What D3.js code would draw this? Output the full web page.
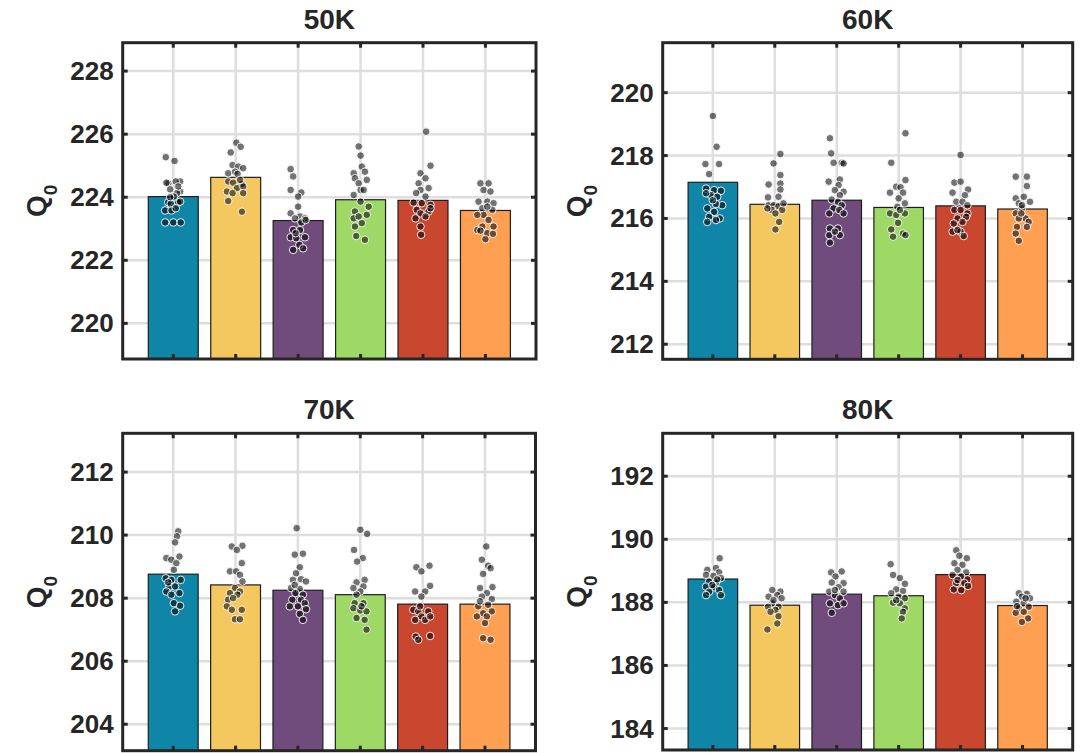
<!DOCTYPE html>
<html><head><meta charset="utf-8">
<script src="https://cdn.jsdelivr.net/npm/d3@7"></script>
<style>
body{margin:0;background:#fff}
svg{display:block}
text{font-family:"Liberation Sans",Arial,Helvetica,sans-serif;font-weight:bold;fill:#262626}
</style>
</head><body>
<svg id="chart" width="1081" height="753"></svg>
<script>
// ---------------- DATA ----------------
const panelTitles = ["50K", "60K", "70K", "80K"];
const categories = [1, 2, 3, 4, 5, 6];
const barColors = ["#0f86a8", "#f4c75f", "#6f4c7c", "#9fd965", "#c9462f", "#fe9f52"];
const yLabel = "Q";
const yLabelSub = "0";

const yLimits50 = [218.87, 228.9];
const yLimits60 = [211.52, 221.59];
const yLimits70 = [203.16, 213.23];
const yLimits80 = [183.32, 193.36];

const yTicks50 = [220, 222, 224, 226, 228];
const yTicks60 = [212, 214, 216, 218, 220];
const yTicks70 = [204, 206, 208, 210, 212];
const yTicks80 = [184, 186, 188, 190, 192];

const means50 = [224.02, 224.63, 223.26, 223.92, 223.90, 223.58];
const means60 = [217.15, 216.45, 216.58, 216.35, 216.40, 216.30];
const means70 = [208.76, 208.42, 208.25, 208.11, 207.81, 207.81];
const means80 = [188.74, 187.91, 188.26, 188.21, 188.88, 187.90];

// each point: [x offset from category (category units), value]
const points50 = [
  [[-0.12,225.27],[0.02,225.15],[-0.08,224.44],[0.11,224.50],[0.04,224.50],[-0.05,224.25],[0.11,224.18],[0.06,224.13],[-0.08,223.84],[0.08,223.84],[-0.04,223.79],[0.11,223.86],[-0.13,223.58],[-0.03,223.58],[0.04,223.65],[-0.13,223.20],[0.00,223.20],[0.12,223.20],[-0.11,224.46],[0.08,224.34],[0.01,224.02],[-0.05,224.00]],
  [[0.01,225.73],[0.08,225.60],[-0.08,225.42],[-0.05,225.02],[0.04,224.97],[0.12,224.92],[-0.12,224.76],[-0.01,224.81],[0.03,224.74],[-0.12,224.50],[-0.04,224.46],[0.10,224.42],[0.02,224.29],[0.12,224.34],[-0.14,224.18],[-0.05,224.13],[0.12,224.13],[-0.12,223.88],[0.10,223.54],[0.07,224.55]],
  [[-0.12,224.89],[-0.08,224.66],[-0.12,224.23],[0.05,224.15],[0.00,224.02],[-0.12,223.49],[0.00,223.70],[0.03,223.39],[-0.05,223.33],[0.11,223.33],[0.05,223.20],[-0.08,222.96],[0.03,222.96],[-0.12,222.73],[-0.03,222.70],[0.11,222.73],[0.02,222.49],[-0.08,222.33],[0.08,222.38],[0.12,223.28],[-0.04,222.86]],
  [[-0.03,225.61],[0.00,225.32],[0.02,224.97],[-0.11,224.76],[0.07,224.81],[-0.09,224.60],[0.10,224.55],[-0.03,224.44],[0.00,224.23],[-0.11,224.07],[0.05,224.23],[0.00,223.86],[0.13,223.70],[-0.09,223.55],[0.10,223.44],[-0.11,223.33],[0.02,223.18],[-0.09,223.07],[-0.07,222.77],[0.07,222.65],[-0.03,223.39]],
  [[0.05,226.08],[0.12,225.00],[-0.04,224.76],[0.04,224.60],[-0.07,224.44],[0.09,224.29],[-0.04,224.23],[-0.11,224.13],[0.04,224.02],[-0.02,223.81],[0.12,223.76],[-0.10,223.60],[0.09,223.55],[-0.04,223.49],[-0.12,223.33],[0.04,223.39],[-0.04,223.07],[-0.03,222.81],[0.12,223.65],[-0.15,223.83]],
  [[-0.08,224.44],[0.05,224.44],[-0.03,224.23],[0.08,224.18],[-0.11,223.86],[0.03,223.86],[0.13,223.81],[-0.05,223.65],[0.11,223.60],[-0.03,223.44],[-0.13,223.44],[0.05,223.28],[-0.05,223.07],[0.13,223.07],[-0.13,222.96],[0.03,222.86],[0.12,222.84],[0.00,222.67],[-0.08,222.94],[0.03,223.70]]
];
const points60 = [
  [[0.00,219.26],[0.06,218.28],[-0.12,217.73],[0.10,217.73],[-0.06,217.41],[-0.11,216.95],[0.02,216.90],[0.13,216.88],[-0.03,216.74],[0.07,216.69],[0.15,216.42],[0.05,216.46],[-0.09,216.32],[0.02,216.21],[-0.06,216.05],[0.11,216.00],[-0.09,215.89],[0.05,215.95],[-0.11,216.80],[0.00,216.58]],
  [[0.09,218.05],[-0.02,217.75],[0.09,217.38],[-0.10,217.08],[0.09,217.11],[0.09,216.92],[-0.11,216.67],[0.06,216.69],[-0.10,216.42],[-0.02,216.42],[0.06,216.39],[-0.05,216.27],[0.12,216.27],[0.01,216.16],[0.07,215.89],[0.01,215.65],[-0.12,216.32],[0.14,216.48]],
  [[-0.11,218.55],[-0.09,218.07],[0.08,217.77],[-0.05,217.77],[0.11,217.75],[0.05,217.24],[-0.13,217.17],[0.03,217.06],[-0.03,216.90],[0.11,216.85],[0.05,216.74],[-0.08,216.60],[0.02,216.53],[0.08,216.42],[-0.05,216.32],[0.04,216.27],[-0.12,216.16],[0.11,216.16],[-0.11,215.68],[0.02,215.68],[-0.12,215.47],[0.05,215.47],[-0.11,215.23],[-0.03,215.58]],
  [[0.11,218.71],[-0.12,217.77],[0.11,217.22],[-0.04,217.01],[0.03,216.99],[-0.14,216.82],[0.07,216.82],[0.00,216.64],[0.10,216.48],[-0.02,216.37],[-0.14,216.16],[0.10,216.16],[-0.04,216.11],[-0.01,215.86],[-0.12,215.65],[0.07,215.52],[-0.09,215.42],[0.11,215.47],[0.02,216.27]],
  [[0.00,218.02],[-0.10,217.14],[0.00,217.17],[0.12,216.92],[-0.13,216.82],[0.07,216.74],[-0.07,216.53],[0.03,216.53],[0.11,216.42],[-0.10,216.27],[0.00,216.27],[0.11,216.16],[-0.05,216.00],[0.09,216.05],[-0.11,215.84],[0.03,215.89],[-0.13,215.58],[0.00,215.58],[0.05,215.44],[-0.05,215.63]],
  [[-0.11,217.33],[0.07,217.33],[0.07,217.03],[-0.11,216.64],[0.02,216.69],[0.12,216.53],[-0.06,216.48],[-0.01,216.32],[-0.11,216.16],[0.05,216.00],[0.10,215.89],[-0.06,216.00],[-0.09,215.73],[0.07,215.73],[-0.11,215.52],[-0.06,215.29],[-0.01,216.42],[-0.02,216.16]]
];
const points70 = [
  [[0.08,210.12],[0.06,209.96],[0.03,209.77],[-0.11,209.27],[-0.03,209.22],[0.10,209.32],[0.05,209.11],[0.01,208.90],[-0.12,208.63],[-0.03,208.58],[0.12,208.58],[-0.06,208.37],[0.03,208.37],[-0.11,208.21],[0.10,208.16],[-0.03,208.11],[0.01,207.84],[0.11,207.76],[0.03,207.58],[-0.08,208.50]],
  [[-0.06,209.64],[0.11,209.66],[0.02,209.53],[0.10,209.11],[-0.09,208.85],[0.01,208.85],[0.07,208.74],[0.11,208.53],[-0.01,208.32],[0.07,208.21],[-0.09,208.16],[0.03,208.11],[-0.12,207.95],[-0.04,208.00],[-0.14,207.74],[0.10,207.63],[-0.01,207.33],[0.07,207.33],[-0.06,207.63]],
  [[-0.02,210.22],[-0.05,209.38],[0.08,209.41],[0.03,208.98],[-0.03,208.79],[-0.08,208.58],[0.05,208.60],[0.13,208.53],[-0.11,208.32],[0.03,208.29],[-0.04,208.16],[0.08,208.11],[-0.09,207.95],[0.05,207.95],[0.11,207.84],[-0.13,207.74],[0.00,207.74],[0.13,207.65],[0.03,207.50],[0.08,207.31],[-0.05,208.42]],
  [[0.00,210.17],[0.11,210.04],[-0.10,209.53],[0.04,209.27],[-0.05,209.16],[0.07,208.58],[-0.06,208.50],[0.05,208.37],[-0.11,208.32],[0.00,208.21],[-0.06,208.11],[-0.09,207.84],[0.05,207.84],[-0.11,207.68],[0.00,207.61],[0.10,207.58],[-0.06,207.37],[0.07,207.31],[0.10,207.00],[0.02,207.74]],
  [[-0.10,208.98],[0.11,209.03],[-0.02,208.85],[0.12,208.39],[-0.12,208.21],[0.04,208.21],[-0.02,208.05],[-0.15,207.63],[-0.07,207.58],[0.09,207.58],[-0.02,207.42],[-0.12,207.31],[0.04,207.31],[0.12,207.42],[-0.11,206.78],[0.12,206.80],[-0.07,206.68],[-0.04,207.74]],
  [[0.02,209.64],[-0.05,209.22],[0.05,209.03],[0.09,208.95],[-0.03,208.77],[0.12,208.35],[-0.08,208.32],[0.03,208.16],[0.11,207.97],[-0.05,208.05],[0.05,207.79],[-0.11,207.74],[0.11,207.58],[-0.03,207.52],[-0.13,207.42],[0.03,207.42],[0.00,207.21],[-0.03,206.73],[0.09,206.68],[-0.08,207.90]]
];
const points80 = [
  [[0.11,189.40],[-0.09,189.03],[0.05,189.09],[0.10,188.95],[-0.11,188.87],[0.01,188.84],[0.13,188.77],[-0.06,188.66],[0.05,188.63],[-0.11,188.50],[0.02,188.48],[0.10,188.39],[-0.06,188.34],[-0.11,188.23],[0.13,188.23],[-0.01,188.55],[0.07,188.73]],
  [[-0.04,188.39],[0.09,188.34],[-0.10,188.18],[0.04,188.23],[0.11,188.13],[-0.04,187.97],[-0.11,187.86],[0.06,187.86],[0.01,187.76],[0.06,187.56],[0.04,187.33],[-0.12,187.14],[-0.02,188.07],[-0.07,187.70]],
  [[-0.09,188.95],[0.08,188.98],[-0.02,188.82],[0.11,188.61],[-0.08,188.63],[0.03,188.48],[-0.12,188.34],[0.11,188.34],[-0.03,188.23],[0.05,188.13],[-0.11,187.97],[0.02,187.91],[0.11,187.97],[-0.08,187.67],[-0.03,188.39]],
  [[-0.13,189.21],[-0.09,188.87],[0.02,188.77],[0.10,188.59],[-0.04,188.41],[0.07,188.36],[-0.12,188.29],[0.00,188.18],[0.10,188.13],[-0.09,187.99],[0.02,187.97],[0.10,187.81],[0.07,187.70],[0.05,187.49],[-0.04,188.07]],
  [[-0.07,189.65],[-0.02,189.48],[0.10,189.40],[-0.10,189.24],[0.03,189.19],[-0.05,189.03],[0.09,188.95],[-0.13,188.87],[0.01,188.82],[0.11,188.73],[-0.07,188.61],[0.06,188.61],[-0.11,188.41],[0.01,188.39],[0.12,188.52],[-0.05,188.71]],
  [[-0.06,188.29],[0.07,188.27],[-0.01,188.18],[0.12,188.13],[-0.10,188.02],[0.02,187.97],[0.10,187.86],[-0.06,187.81],[-0.11,187.67],[0.02,187.70],[0.09,187.49],[-0.01,187.38],[-0.09,187.88],[0.05,188.13]]
];

// ---------------- LAYOUT ----------------
const panels = [
  {title: panelTitles[0], lim: yLimits50, ticks: yTicks50, means: means50, pts: points50, box: {l:122.7, r:536,   t:42.7,  b:359}},
  {title: panelTitles[1], lim: yLimits60, ticks: yTicks60, means: means60, pts: points60, box: {l:662.7, r:1072.7, t:42.7, b:359.3}},
  {title: panelTitles[2], lim: yLimits70, ticks: yTicks70, means: means70, pts: points70, box: {l:122.7, r:535.5, t:433.3, b:750.7}},
  {title: panelTitles[3], lim: yLimits80, ticks: yTicks80, means: means80, pts: points80, box: {l:662.7, r:1072.7, t:433.3, b:750}}
];
const xLim = [0.19, 6.81];
const barWidth = 0.8;
const frameColor = "#262626";
const gridColor = "#dedede";

const svg = d3.select("#chart");

panels.forEach(p => {
  const B = p.box;
  const x = d3.scaleLinear().domain(xLim).range([B.l, B.r]);
  const y = d3.scaleLinear().domain(p.lim).range([B.b, B.t]);
  const g = svg.append("g");

  // grid
  g.append("g").selectAll("line.v").data(categories).join("line")
    .attr("x1", d => x(d)).attr("x2", d => x(d))
    .attr("y1", B.t).attr("y2", B.b)
    .attr("stroke", gridColor).attr("stroke-width", 2.5);
  g.append("g").selectAll("line.h").data(p.ticks).join("line")
    .attr("x1", B.l).attr("x2", B.r)
    .attr("y1", d => y(d)).attr("y2", d => y(d))
    .attr("stroke", gridColor).attr("stroke-width", 2.5);

  // bars
  g.append("g").selectAll("rect").data(categories).join("rect")
    .attr("x", d => x(d - barWidth / 2))
    .attr("width", d => x(d + barWidth / 2) - x(d - barWidth / 2))
    .attr("y", (d, i) => y(p.means[i]))
    .attr("height", (d, i) => B.b - y(p.means[i]))
    .attr("fill", (d, i) => barColors[i])
    .attr("stroke", "#1e1e1e").attr("stroke-width", 1.2);

  // points
  const flat = [];
  p.pts.forEach((arr, i) => arr.forEach(pt => flat.push({c: categories[i], dx: pt[0], v: pt[1]})));
  g.append("g").selectAll("circle").data(flat).join("circle")
    .attr("cx", d => x(d.c + d.dx))
    .attr("cy", d => y(d.v))
    .attr("r", 3.8)
    .attr("fill", "#000").attr("fill-opacity", 0.55)
    .attr("stroke", "#fff").attr("stroke-width", 1).attr("stroke-opacity", 0.9);

  // frame
  g.append("rect")
    .attr("x", B.l).attr("y", B.t).attr("width", B.r - B.l).attr("height", B.b - B.t)
    .attr("fill", "none").attr("stroke", frameColor).attr("stroke-width", 3);

  // inward ticks
  const tl = 5;
  const tg = g.append("g").attr("stroke", frameColor).attr("stroke-width", 3);
  categories.forEach(c => {
    tg.append("line").attr("x1", x(c)).attr("x2", x(c)).attr("y1", B.t).attr("y2", B.t + tl);
    tg.append("line").attr("x1", x(c)).attr("x2", x(c)).attr("y1", B.b).attr("y2", B.b - tl);
  });
  p.ticks.forEach(t => {
    tg.append("line").attr("x1", B.l).attr("x2", B.l + tl).attr("y1", y(t)).attr("y2", y(t));
    tg.append("line").attr("x1", B.r).attr("x2", B.r - tl).attr("y1", y(t)).attr("y2", y(t));
  });

  // tick labels
  g.append("g").selectAll("text").data(p.ticks).join("text")
    .attr("x", B.l - 9).attr("y", d => y(d))
    .attr("text-anchor", "end").attr("dominant-baseline", "central")
    .style("font-size", "26px")
    .text(d => d);

  // title
  g.append("text")
    .attr("x", (B.l + B.r) / 2).attr("y", B.t - 14)
    .attr("text-anchor", "middle")
    .style("font-size", "28px")
    .text(p.title);

  // y label
  const yl = g.append("text")
    .attr("transform", `translate(${B.l - 77},${(B.t + B.b) / 2}) rotate(-90)`)
    .attr("text-anchor", "middle")
    .style("font-size", "28px");
  yl.append("tspan").text(yLabel);
  yl.append("tspan").attr("dy", 11).style("font-size", "19px").text(yLabelSub);
});
</script>
</body></html>
